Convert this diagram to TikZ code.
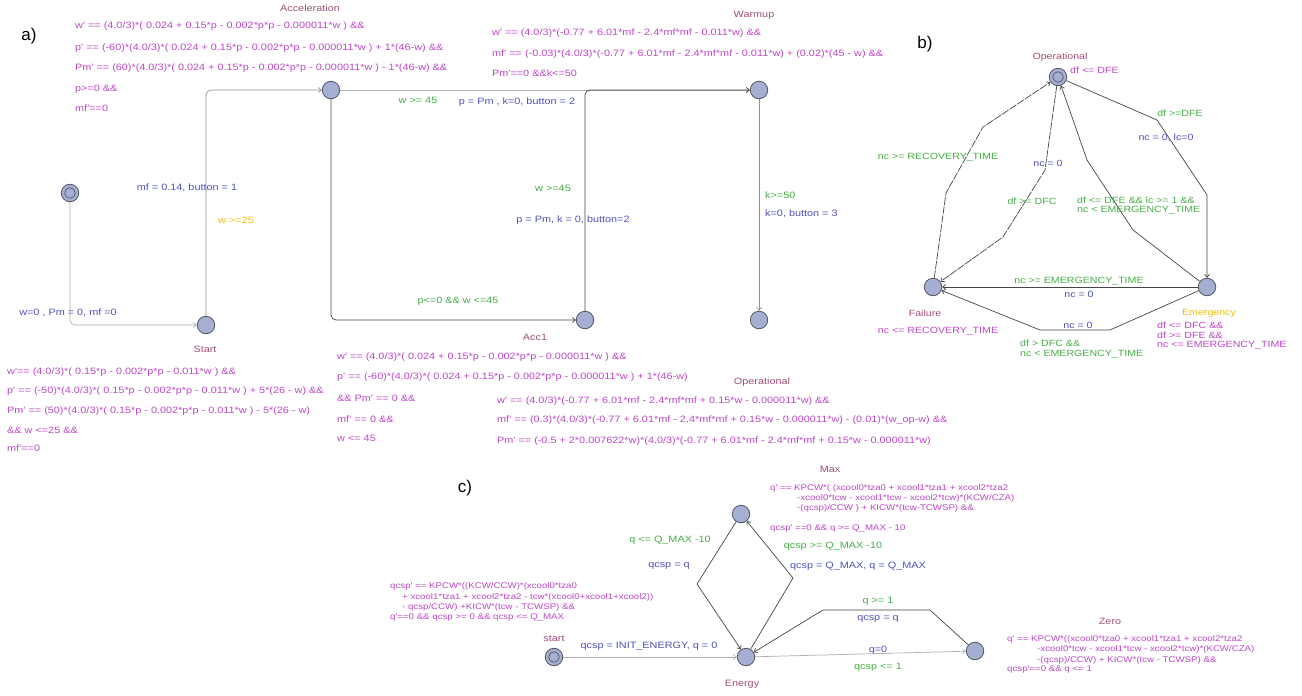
\documentclass[tikz,border=0pt]{standalone}
\usepackage{fontspec}
\setmainfont{Liberation Sans}
\newfontfamily\uf[FakeStretch=1.18]{Liberation Sans}
\usetikzlibrary{arrows.meta}

\definecolor{locfill}{RGB}{165,175,210}
\definecolor{locline}{RGB}{80,85,100}
\definecolor{edgedark}{RGB}{70,70,70}
\definecolor{edgelight}{RGB}{175,175,175}
\definecolor{invc}{RGB}{190,70,200}
\definecolor{namec}{RGB}{160,80,120}
\definecolor{grc}{RGB}{70,175,70}
\definecolor{updc}{RGB}{80,80,190}
\definecolor{selc}{RGB}{240,190,20}

\begin{document}
\begin{tikzpicture}[x=1pt,y=-1pt,
  loc/.style={circle,draw=locline,fill=locfill,line width=0.8pt,minimum size=17.5pt,inner sep=0pt},
  initloc/.style={loc,path picture={\draw[draw=locline,line width=0.7pt]
      (path picture bounding box.center) circle (5.3pt);}},
  tr/.style={draw=edgedark,line width=0.7pt,-{Straight Barb[length=3pt,width=5pt]}},
  trl/.style={tr,draw=edgelight},
  trm/.style={tr,draw=edgedark!60},
  trd/.style={tr,dash pattern=on 8pt off 1.2pt},
  txta/.style={inner sep=0pt,font=\uf\fontsize{9.2}{11}\selectfont},
  txtb/.style={inner sep=0pt,font=\uf\fontsize{9}{10}\selectfont},
  txtc/.style={inner sep=0pt,font=\uf\fontsize{8.2}{9}\selectfont},
  txtcl/.style={inner sep=0pt,font=\uf\fontsize{9.2}{10}\selectfont},
  inva/.style={txta,text=invc,anchor=west},
  invb/.style={txtb,text=invc,anchor=west},
  invc/.style={txtc,text=invc,anchor=west},
  namea/.style={txta,text=namec},
  nameb/.style={txtb,text=namec},
  namec/.style={txtcl,text=namec},
  panel/.style={inner sep=0pt,font=\fontsize{17}{20}\selectfont}
]
\useasboundingbox[fill=white] (0,0) rectangle (1302,696);

% ---------------- a) ----------------
\node[panel] (pa) at (29,36) {a)};

\node[initloc] (ainit) at (70,193) {};
\node[loc] (start) at (206,325) {};
\node[loc] (accel) at (331,90) {};
\node[loc] (warm) at (759,90) {};
\node[loc] (acc1) at (585,320) {};
\node[loc] (wend) at (759,320) {};

\draw[trl,rounded corners=5pt] (ainit) |- (start);
\draw[trm,rounded corners=5pt] (start) |- (accel);
\draw[trl] (accel) -- (warm);
\draw[tr,rounded corners=5pt] (accel) |- (acc1);
\draw[tr,rounded corners=5pt] (acc1) |- (warm);
\draw[trm] (warm) -- (wend);

\node[txta,text=updc] (l1) at (68,313) {w=0 , Pm = 0, mf =0};
\node[txta,text=updc] (l2) at (187,188) {mf = 0.14, button = 1};
\node[txta,text=selc] (l3) at (236,220) {w >=25};
\node[txta,text=grc] (l4) at (418,100) {w >= 45};
\node[txta,text=updc] (l5) at (517,102) {p = Pm , k=0, button = 2};
\node[txta,text=grc] (l6) at (458,301) {p<=0 \&\& w <=45};
\node[txta,text=grc] (l7) at (553,188) {w >=45};
\node[txta,text=updc] (l8) at (573,220) {p = Pm, k = 0, button=2};
\node[txta,text=grc,anchor=west] (l9) at (765,195) {k>=50};
\node[txta,text=updc,anchor=west] (l10) at (765,214) {k=0, button = 3};

\node[namea] (nAcc) at (310,8) {Acceleration};
\node[namea] (nWarm) at (754,15) {Warmup};
\node[namea] (nStart) at (205,349) {Start};
\node[namea] (nAcc1) at (535,337) {Acc1};
\node[namea] (nOp) at (762,382) {Operational};

\node[inva] (ia1) at (75,26) {w' == (4.0/3)*( 0.024 + 0.15*p - 0.002*p*p - 0.000011*w ) \&\&};
\node[inva] (ia2) at (75,48) {p' == (-60)*(4.0/3)*( 0.024 + 0.15*p - 0.002*p*p - 0.000011*w ) + 1*(46-w) \&\&};
\node[inva] (ia3) at (75,68) {Pm' == (60)*(4.0/3)*( 0.024 + 0.15*p - 0.002*p*p - 0.000011*w ) - 1*(46-w) \&\&};
\node[inva] (ia4) at (75,89) {p>=0 \&\&};
\node[inva] (ia5) at (75,108) {mf'==0};

\node[inva] (iw1) at (492,33) {w' == (4.0/3)*(-0.77 + 6.01*mf - 2.4*mf*mf - 0.011*w) \&\&};
\node[inva] (iw2) at (492,54) {mf' == (-0.03)*(4.0/3)*(-0.77 + 6.01*mf - 2.4*mf*mf - 0.011*w) + (0.02)*(45 - w) \&\&};
\node[inva] (iw3) at (492,73) {Pm'==0 \&\&k<=50};

\node[inva] (is1) at (7,372) {w'== (4.0/3)*( 0.15*p - 0.002*p*p - 0.011*w ) \&\&};
\node[inva] (is2) at (7,391) {p' == (-50)*(4.0/3)*( 0.15*p - 0.002*p*p - 0.011*w ) + 5*(26 - w) \&\&};
\node[inva] (is3) at (7,411) {Pm' == (50)*(4.0/3)*( 0.15*p - 0.002*p*p - 0.011*w ) - 5*(26 - w)};
\node[inva] (is4) at (7,430) {\&\& w <=25 \&\&};
\node[inva] (is5) at (7,448) {mf'==0};

\node[inva] (ic1) at (337,357) {w' == (4.0/3)*( 0.024 + 0.15*p - 0.002*p*p - 0.000011*w ) \&\&};
\node[inva] (ic2) at (337,377) {p' == (-60)*(4.0/3)*( 0.024 + 0.15*p - 0.002*p*p - 0.000011*w ) + 1*(46-w)};
\node[inva] (ic3) at (337,398) {\&\& Pm' == 0 \&\&};
\node[inva] (ic4) at (337,419) {mf' == 0 \&\&};
\node[inva] (ic5) at (337,438) {w <= 45};

\node[inva] (io1) at (497,401) {w' == (4.0/3)*(-0.77 + 6.01*mf - 2.4*mf*mf + 0.15*w - 0.000011*w) \&\&};
\node[inva] (io2) at (497,420) {mf' == (0.3)*(4.0/3)*(-0.77 + 6.01*mf - 2.4*mf*mf + 0.15*w - 0.000011*w) - (0.01)*(w\_op-w) \&\&};
\node[inva] (io3) at (497,441) {Pm' == (-0.5 + 2*0.007622*w)*(4.0/3)*(-0.77 + 6.01*mf - 2.4*mf*mf + 0.15*w - 0.000011*w)};

% ---------------- b) ----------------
\node[panel] (pb) at (925,44) {b)};

\node[initloc] (bop) at (1058,77) {};
\node[loc] (fail) at (933,287) {};
\node[loc] (emer) at (1207,287) {};

\draw[trd] (fail) -- (946,193) -- (983,127) -- (bop);
\draw[trd] (bop) -- (1045,170) -- (1003,237) -- (fail);
\draw[tr] (emer) -- (1133,230) -- (1087,160) -- (bop);
\draw[tr] (bop) -- (1157,120) -- (1207,195) -- (emer);
\draw[tr] (emer) -- (fail);
\draw[tr] (emer) -- (1110,330) -- (1040,330) -- (fail);

\node[nameb] (nbOp) at (1060,57) {Operational};
\node[invb] (ibOp) at (1070,70) {df <= DFE};
\node[nameb] (nFail) at (925,313) {Failure};
\node[txtb,text=invc] (ibFail) at (938,331) {nc <= RECOVERY\_TIME};
\node[txtb,text=selc] (nEmer) at (1209,313) {Emergency};
\node[invb] (ibE1) at (1157,325) {df <= DFC \&\&};
\node[invb] (ibE2) at (1157,335) {df >= DFE \&\&};
\node[invb] (ibE3) at (1157,345) {nc <= EMERGENCY\_TIME};

\node[txtb,text=grc] (b1) at (938,157) {nc >= RECOVERY\_TIME};
\node[txtb,text=updc] (b2) at (1048,163) {nc = 0};
\node[txtb,text=grc] (b3) at (1032,201) {df >= DFC};
\node[txtb,text=grc,anchor=west] (b4) at (1077,200) {df <= DFE \&\& lc >= 1 \&\&};
\node[txtb,text=grc,anchor=west] (b5) at (1077,210) {nc < EMERGENCY\_TIME};
\node[txtb,text=grc] (b6) at (1180,113) {df >=DFE};
\node[txtb,text=updc] (b7) at (1166,138) {nc = 0, lc=0};
\node[txtb,text=grc] (b8) at (1079,281) {nc >= EMERGENCY\_TIME};
\node[txtb,text=updc] (b9) at (1079,294) {nc = 0};
\node[txtb,text=updc] (b10) at (1078,325) {nc = 0};
\node[txtb,text=grc,anchor=west] (b11) at (1020,343) {df > DFC \&\&};
\node[txtb,text=grc,anchor=west] (b12) at (1020,354) {nc < EMERGENCY\_TIME};

% ---------------- c) ----------------
\node[panel] (pc) at (465,488) {c)};

\node[initloc] (cstart) at (554,657) {};
\node[loc] (energy) at (746,657) {};
\node[loc] (cmax) at (741,514) {};
\node[loc] (zero) at (975,651) {};

\draw[trl] (cstart) -- (energy);
\draw[trl] (energy) -- (zero);
\draw[tr] (zero) -- (930,610) -- (823,610) -- (energy);
\draw[tr] (cmax) -- (697,584) -- (energy);
\draw[tr] (energy) -- (793,578) -- (cmax);

\node[namec] (nStart2) at (554,639) {start};
\node[namec] (nEnergy) at (742,684) {Energy};
\node[namec] (nMax) at (830,469) {Max};
\node[namec] (nZero) at (1110,621) {Zero};

\node[txtcl,text=updc] (c1) at (649,646) {qcsp = INIT\_ENERGY, q = 0};
\node[txtcl,text=updc] (c2) at (878,650) {q=0};
\node[txtcl,text=grc] (c3) at (878,667) {qcsp <= 1};
\node[txtcl,text=grc] (c4) at (878,601) {q >= 1};
\node[txtcl,text=updc] (c5) at (878,619) {qcsp = q};
\node[txtcl,text=grc] (c6) at (670,540) {q <= Q\_MAX -10};
\node[txtcl,text=updc] (c7) at (669,566) {qcsp = q};
\node[txtcl,text=grc] (c8) at (833,546) {qcsp >= Q\_MAX -10};
\node[txtcl,text=updc] (c9) at (858,566) {qcsp = Q\_MAX, q = Q\_MAX};

\node[invc] (im1) at (770,488) {q' == KPCW*( (xcool0*tza0 + xcool1*tza1 + xcool2*tza2};
\node[invc] (im2) at (797,498) {-xcool0*tcw - xcool1*tcw - xcool2*tcw)*(KCW/CZA)};
\node[invc] (im3) at (797,508) {-(qcsp)/CCW )  + KICW*(tcw-TCWSP) \&\&};
\node[invc] (im4) at (770,528) {qcsp' ==0 \&\& q >= Q\_MAX - 10};

\node[invc] (ie1) at (390,586) {qcsp' == KPCW*((KCW/CCW)*(xcool0*tza0};
\node[invc] (ie2) at (402,597) {+ xcool1*tza1  + xcool2*tza2 - tcw*(xcool0+xcool1+xcool2))};
\node[invc] (ie3) at (402,607) {- qcsp/CCW) +KICW*(tcw - TCWSP)  \&\&};
\node[invc] (ie4) at (390,617) {q'==0 \&\& qcsp >= 0 \&\& qcsp <= Q\_MAX};

\node[invc] (iz1) at (1007,639) {q' == KPCW*((xcool0*tza0 + xcool1*tza1 + xcool2*tza2};
\node[invc] (iz2) at (1037,649) {-xcool0*tcw - xcool1*tcw - xcool2*tcw)*(KCW/CZA)};
\node[invc] (iz3) at (1037,660) {-(qcsp)/CCW)  + KICW*(tcw - TCWSP) \&\&};
\node[invc] (iz4) at (1007,669) {qcsp'==0 \&\& q <= 1};
\end{tikzpicture}
\end{document}
